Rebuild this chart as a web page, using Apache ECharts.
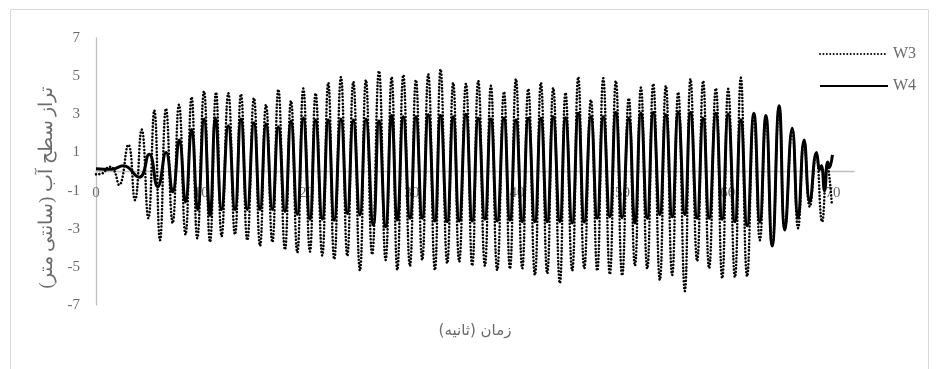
<!DOCTYPE html>
<html>
<head>
<meta charset="utf-8">
<script src="https://cdn.jsdelivr.net/npm/echarts@6/dist/echarts.min.js"></script>
<style>html,body{margin:0;padding:0;background:#fff}#c{width:939px;height:369px}</style>
</head>
<body>
<div id="c"></div>
<script>
// W4 (solid) extrema: time (s), level (cm)
var w4Time = [0, 1.5, 2.6, 4.1, 5.05, 5.86, 6.65, 7.28, 7.91, 8.5, 9.08, 9.66, 10.26, 10.83, 11.35,
  11.93, 12.57, 13.2, 13.77, 14.37, 15.0, 15.58, 16.15, 16.75, 17.32, 17.95, 18.52, 19.12, 19.69, 20.32, 20.86, 21.49, 22.06, 22.63, 23.27,
  23.87, 24.44, 25.07, 25.64, 26.34, 26.88, 27.51, 28.08, 28.62, 29.19, 29.82, 30.39, 30.99, 31.56, 32.19, 32.73, 33.36, 33.93, 34.5, 35.14,
  35.74, 36.31, 36.94, 37.51, 38.11, 38.75, 39.32, 39.89, 40.49, 41.06, 41.69, 42.26, 42.86, 43.43, 44.06, 44.6, 45.23, 45.81, 46.38, 47.01,
  47.61, 48.18, 48.81, 49.38, 49.98, 50.61, 51.19, 51.76, 52.36, 52.93, 53.56, 54.13, 54.73, 55.3, 55.93, 56.47, 57.1, 57.67, 58.24, 58.88,
  59.48, 60.05, 60.69, 61.25, 61.85, 62.49, 63.06, 63.63, 64.23, 64.89, 65.43, 66.13, 66.69, 67.26, 67.8, 68.44, 68.75, 68.9, 69.2, 69.5, 69.65, 69.95];
var w4Value = [0.15, 0.12, 0.3, -0.3, 0.9, -0.8, 1.0, -1.06, 1.65, -1.6, 2.2, -2.0, 2.75, -2.3, 2.8,
  -2.0, 2.4, -2.0, 2.75, -2.0, 2.55, -2.0, 2.5, -2.0, 2.35, -2.1, 2.65, -2.25, 2.8, -2.5, 2.7, -2.5, 2.7, -2.55, 2.75,
  -2.2, 2.7, -2.28, 2.75, -2.8, 2.65, -2.9, 2.93, -2.54, 2.87, -2.45, 2.87, -2.45, 2.97, -2.6, 2.93, -2.63, 2.87, -2.6, 3.0,
  -2.6, 2.79, -2.5, 2.75, -2.6, 2.79, -2.55, 2.7, -2.63, 2.79, -2.63, 2.79, -2.63, 2.87, -2.63, 2.82, -2.7, 3.05, -2.65, 2.87,
  -2.45, 2.87, -2.37, 3.1, -2.42, 2.79, -2.7, 3.05, -2.45, 3.1, -2.25, 2.97, -2.37, 3.1, -2.25, 3.1, -2.45, 2.79, -2.45, 3.05,
  -2.5, 3.0, -2.63, 2.7, -2.84, 3.05, -2.63, 2.93, -3.9, 3.45, -3.07, 2.27, -2.45, 1.65, -1.58, 1.0, 0.1, 0.3, -1.0, 0.5, 0.2, 0.87];

// W3 (dotted) extrema
var w3Time = [0, 0.6, 1.3, 1.7, 2.2, 3.07, 3.7, 4.34, 4.97, 5.54, 6.08, 6.65, 7.28, 7.88, 8.5, 9.08, 9.62, 10.26, 10.83, 11.4,
  11.93, 12.57, 13.2, 13.77, 14.37, 15.0, 15.58, 16.15, 16.75, 17.32, 17.95, 18.52, 19.12, 19.69, 20.32, 20.86, 21.49, 22.06, 22.63, 23.27,
  23.87, 24.44, 25.07, 25.64, 26.23, 26.88, 27.51, 28.08, 28.62, 29.19, 29.82, 30.39, 30.99, 31.56, 32.19, 32.73, 33.36, 33.93, 34.5, 35.14,
  35.74, 36.31, 36.94, 37.51, 38.11, 38.75, 39.32, 39.89, 40.49, 41.06, 41.69, 42.26, 42.86, 43.43, 44.06, 44.6, 45.23, 45.81, 46.38, 47.01,
  47.61, 48.18, 48.81, 49.38, 49.98, 50.61, 51.19, 51.76, 52.36, 52.93, 53.56, 54.13, 54.73, 55.3, 55.93, 56.47, 57.1, 57.67, 58.24, 58.88,
  59.48, 60.05, 60.69, 61.25, 61.85, 62.49, 63.06, 63.63, 64.23, 64.89, 65.43, 66.13, 66.69, 67.26, 67.8, 68.4, 68.97, 69.45, 69.9];
var w3Value = [-0.15, -0.1, 0.25, 0.1, -0.7, 1.4, -1.5, 2.2, -2.45, 3.2, -3.6, 3.3, -2.7, 3.5, -3.3, 3.9, -3.5, 4.2, -3.7, 4.15,
  -3.4, 4.1, -3.3, 4.05, -3.6, 3.85, -3.9, 3.5, -3.7, 4.3, -4.1, 3.7, -4.25, 4.35, -4.2, 4.1, -4.4, 4.65, -4.6, 4.95,
  -4.43, 4.7, -5.2, 4.8, -4.35, 5.27, -4.64, 4.95, -5.17, 5.06, -4.96, 4.8, -4.64, 5.1, -5.17, 5.36, -4.81, 4.65, -4.73, 4.6,
  -4.94, 4.75, -4.94, 4.5, -5.17, 4.18, -5.1, 4.85, -5.08, 4.33, -5.43, 4.65, -5.35, 4.38, -5.86, 4.13, -5.2, 4.95, -5.08, 3.75,
  -5.2, 4.89, -5.39, 4.75, -5.45, 3.84, -4.94, 4.4, -5.1, 4.6, -5.69, 4.5, -5.43, 4.15, -6.27, 4.85, -4.7, 4.75, -5.08, 4.36,
  -5.6, 4.33, -5.55, 4.92, -5.5, 3.0, -3.6, 2.9, -3.85, 3.3, -3.0, 2.2, -2.97, 1.6, -1.85, 0.9, -2.63, 0.3, -1.76];

var yTicks = [-7, -5, -3, -1, 1, 3, 5, 7];
var xTicks = [0, 10, 20, 30, 40, 50, 60, 70];

function zip(a, b) { return a.map(function (t, i) { return [t, b[i]]; }); }

var chart = echarts.init(document.getElementById('c'), null, { renderer: 'canvas' });
var labelColor = '#6b6b6b';
var serif = '"Liberation Serif", "DejaVu Serif", serif';
var gridTop = 38, gridBottom = 64, H = 369;
// place x axis at the y = 0 line (middle of the symmetric -7..7 range)
var zeroOffset = -((H - gridTop - gridBottom) / 2);
chart.setOption({
  animation: false,
  backgroundColor: '#fff',
  graphic: [{
    type: 'rect', silent: true,
    shape: { x: 10.5, y: 9.5, width: 918, height: 372 },
    style: { fill: 'none', stroke: '#d9d9d9', lineWidth: 1 }
  }],
  grid: { left: 96, right: 85, top: gridTop, bottom: gridBottom, containLabel: false, outerBoundsMode: 'none' },
  legend: {
    orient: 'vertical', left: 814, top: 41, itemWidth: 68, itemHeight: 14, itemGap: 16,
    itemStyle: { opacity: 0 },
    textStyle: { fontFamily: serif, fontSize: 16, color: labelColor },
    data: ['W3', 'W4']
  },
  xAxis: {
    type: 'value', min: 0, max: 72, interval: 10, offset: zeroOffset,
    axisLine: { onZero: false, lineStyle: { color: '#bfbfbf', width: 1.3 } },
    axisTick: { show: false }, splitLine: { show: false },
    axisLabel: {
      margin: 14, fontFamily: serif, fontSize: 15, color: labelColor,
      formatter: function (v) { return xTicks.indexOf(v) >= 0 ? String(v) : ''; }
    },
    name: 'زمان (ثانیه)', nameLocation: 'middle', nameGap: 152,
    nameTextStyle: { fontFamily: '"DejaVu Sans", sans-serif', fontSize: 15, color: labelColor }
  },
  yAxis: {
    type: 'value', min: -7, max: 7, interval: 1,
    axisLine: { show: true, onZero: false, lineStyle: { color: '#bfbfbf', width: 1.3 } },
    axisTick: { show: false }, splitLine: { show: false },
    axisLabel: {
      margin: 16, fontFamily: serif, fontSize: 15, color: labelColor,
      formatter: function (v) { return yTicks.indexOf(v) >= 0 ? String(v) : ''; }
    },
    name: 'تراز سطح آب (سانتی متر)', nameLocation: 'middle', nameRotate: 90, nameGap: 36,
    nameTextStyle: { fontFamily: serif, fontSize: 18.5, color: labelColor, padding: [0, 32, 0, 0] }
  },
  series: [{
    name: 'W3', type: 'line', data: zip(w3Time, w3Value), smooth: 0.5,
    symbol: 'none', showSymbol: false,
    lineStyle: { color: '#000', width: 2.6, type: [0.01, 3.4], cap: 'round' },
    itemStyle: { color: '#000' }
  }, {
    name: 'W4', type: 'line', data: zip(w4Time, w4Value), smooth: 0.5,
    symbol: 'none', showSymbol: false,
    lineStyle: { color: '#000', width: 3 },
    itemStyle: { color: '#000' }
  }]
});
</script>
</body>
</html>
